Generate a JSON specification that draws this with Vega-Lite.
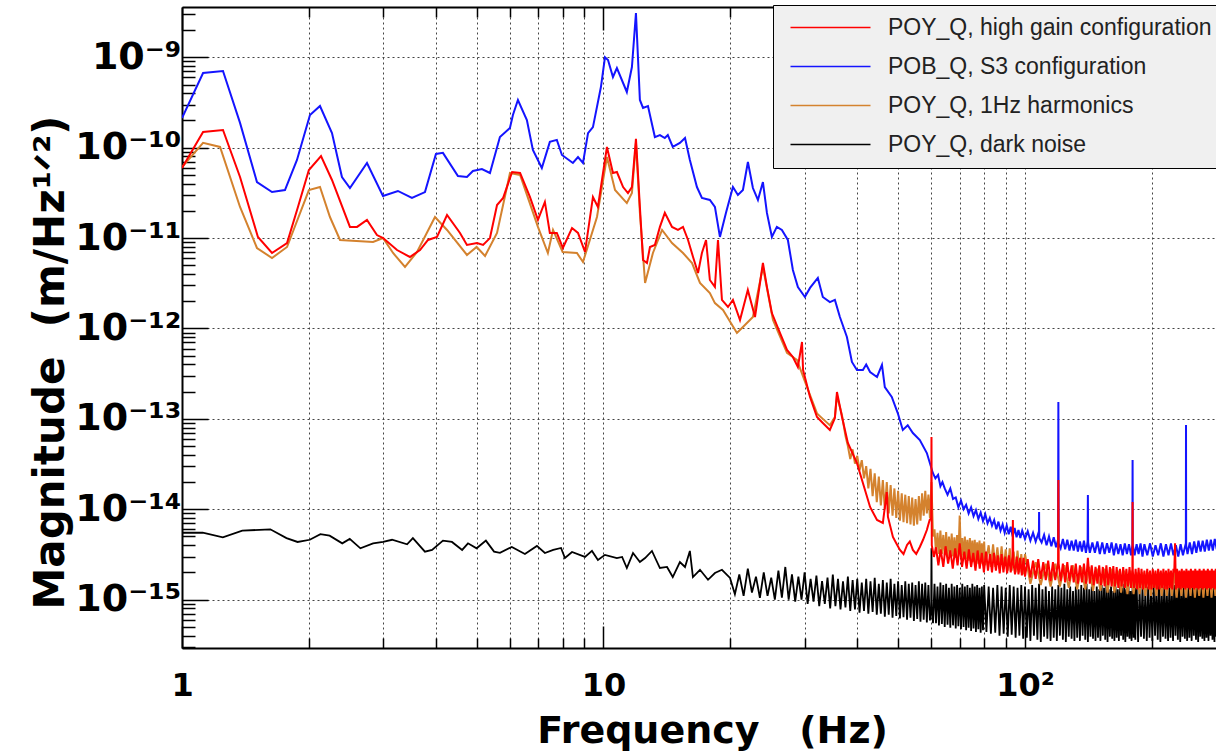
{
"$schema":"https://vega.github.io/schema/vega-lite/v6.json",
"width":1034,"height":641,
"autosize":"none",
"padding":{"left":182,"top":7,"right":0,"bottom":103},
"background":"white",
"config":{"view":{"stroke":null},"font":"DejaVu Sans"},
"datasets":{
"k":[{"f":1,"v":5.5e-15},{"f":1.12,"v":5.5e-15},{"f":1.25,"v":4.9e-15},{"f":1.39,"v":5.8e-15},{"f":1.62,"v":6.0e-15},{"f":1.77,"v":4.8e-15},{"f":1.88,"v":4.35e-15},{"f":2.01,"v":4.6e-15},{"f":2.13,"v":5.3e-15},{"f":2.24,"v":5.1e-15},{"f":2.4,"v":4.2e-15},{"f":2.5,"v":4.7e-15},{"f":2.65,"v":3.7e-15},{"f":2.84,"v":4.2e-15},{"f":3.0,"v":4.35e-15},{"f":3.15,"v":4.6e-15},{"f":3.42,"v":4.1e-15},{"f":3.53,"v":4.8e-15},{"f":3.77,"v":3.4e-15},{"f":3.92,"v":3.55e-15},{"f":4.16,"v":4.5e-15},{"f":4.37,"v":4.35e-15},{"f":4.62,"v":3.55e-15},{"f":4.77,"v":4.2e-15},{"f":5.0,"v":3.7e-15},{"f":5.26,"v":4.5e-15},{"f":5.5,"v":3.4e-15},{"f":5.68,"v":3.3e-15},{"f":6.06,"v":3.83e-15},{"f":6.51,"v":3.2e-15},{"f":6.95,"v":3.93e-15},{"f":7.26,"v":3.28e-15},{"f":7.6,"v":3.55e-15},{"f":7.93,"v":3.73e-15},{"f":8.1,"v":2.89e-15},{"f":8.42,"v":3.37e-15},{"f":9.04,"v":2.97e-15},{"f":9.39,"v":3.46e-15},{"f":9.7,"v":2.75e-15},{"f":10.08,"v":3.13e-15},{"f":10.76,"v":2.89e-15},{"f":11.07,"v":2.97e-15},{"f":11.36,"v":2.24e-15},{"f":11.75,"v":3.28e-15},{"f":12.2,"v":2.61e-15},{"f":12.55,"v":2.89e-15},{"f":13.03,"v":3.46e-15},{"f":13.61,"v":2.24e-15},{"f":14.15,"v":2.3e-15},{"f":14.6,"v":1.78e-15},{"f":15.18,"v":2.61e-15},{"f":15.61,"v":2.3e-15},{"f":16.03,"v":3.46e-15},{"f":16.3,"v":1.78e-15},{"f":16.94,"v":2.14e-15},{"f":17.7,"v":1.66e-15},{"f":18.38,"v":1.97e-15},{"f":19.1,"v":2.14e-15},{"f":19.96,"v":1.74e-15},
{"f":20.5,"v":1.15e-15},{"f":21,"v":1.9e-15},{"f":21.5,"v":1.1e-15},{"f":22,"v":2.2e-15},{"f":22.5,"v":1.2e-15},{"f":23,"v":1.8e-15},{"f":23.5,"v":1.05e-15},{"f":24,"v":2.0e-15},{"f":24.5,"v":1.1e-15},{"f":25,"v":1.75e-15},{"f":25.5,"v":1.0e-15},{"f":26,"v":2.1e-15},{"f":26.5,"v":1.05e-15},{"f":27,"v":2.3e-15},{"f":27.5,"v":1.0e-15},{"f":28,"v":1.9e-15},{"f":28.5,"v":9.5e-16},{"f":29,"v":1.8e-15},{"f":29.5,"v":1.0e-15},{"f":30,"v":2.0e-15},{"f":30.5,"v":9.0e-16},{"f":31,"v":1.7e-15},{"f":31.5,"v":9.5e-16},{"f":32,"v":1.85e-15},{"f":32.5,"v":8.5e-16},{"f":33,"v":1.6e-15},{"f":33.5,"v":9.0e-16},{"f":34,"v":1.75e-15},{"f":34.5,"v":8.0e-16},{"f":35,"v":1.9e-15},{"f":35.5,"v":8.5e-16},{"f":36,"v":1.7e-15},{"f":36.5,"v":7.8e-16},{"f":37,"v":1.6e-15},{"f":37.5,"v":8.2e-16},{"f":38,"v":1.8e-15},{"f":38.5,"v":7.5e-16},{"f":39,"v":1.65e-15},{"f":39.5,"v":7.8e-16},{"f":40,"v":1.7e-15},{"f":40.5,"v":7.2e-16},{"f":41,"v":1.55e-15},{"f":41.5,"v":7.5e-16},{"f":42,"v":1.7e-15},{"f":42.5,"v":7.0e-16},{"f":43,"v":1.6e-15},{"f":43.5,"v":7.3e-16},{"f":44,"v":1.75e-15},{"f":44.5,"v":6.8e-16},{"f":45,"v":1.5e-15},{"f":45.5,"v":7.0e-16},{"f":46,"v":1.65e-15},{"f":46.5,"v":6.5e-16},{"f":47,"v":1.55e-15},{"f":47.5,"v":6.8e-16},{"f":48,"v":1.7e-15},{"f":48.5,"v":6.3e-16},{"f":49,"v":1.5e-15},{"f":49.5,"v":6.6e-16},{"f":50,"v":1.6e-15},{"f":50.5,"v":6.2e-16},{"f":51,"v":1.45e-15},{"f":51.5,"v":6.4e-16},{"f":52,"v":1.6e-15},{"f":52.5,"v":6.0e-16},{"f":53,"v":1.5e-15},{"f":53.5,"v":6.3e-16},{"f":54,"v":1.55e-15},{"f":54.5,"v":5.8e-16},{"f":55,"v":1.45e-15},{"f":55.5,"v":6.1e-16},{"f":56,"v":1.6e-15},{"f":56.5,"v":5.7e-16},{"f":57,"v":1.5e-15},{"f":57.5,"v":6.0e-16},{"f":58,"v":1.55e-15},{"f":58.5,"v":5.6e-16},{"f":59,"v":1.45e-15},{"f":59.5,"v":5.9e-16},{"f":59.9,"v":8e-16},{"f":60,"v":3.7e-15},{"f":60.1,"v":8e-16},{"f":60.5,"v":5.5e-16},
{"f":61,"v":1.5e-15},{"f":61.5,"v":5.5e-16},{"f":62,"v":1.4e-15},{"f":62.5,"v":5.2e-16},{"f":63,"v":1.55e-15},{"f":63.5,"v":5.4e-16},{"f":64,"v":1.45e-15},{"f":64.5,"v":5.0e-16},{"f":65,"v":1.5e-15},{"f":65.5,"v":5.3e-16},{"f":66,"v":1.35e-15},{"f":66.5,"v":4.9e-16},{"f":67,"v":1.5e-15},{"f":67.5,"v":5.2e-16},{"f":68,"v":1.4e-15},{"f":68.5,"v":4.8e-16},{"f":69,"v":1.45e-15},{"f":69.5,"v":5.1e-16},{"f":70,"v":1.35e-15},{"f":70.5,"v":4.7e-16},{"f":71,"v":1.5e-15},{"f":71.5,"v":5.0e-16},{"f":72,"v":1.4e-15},{"f":72.5,"v":4.6e-16},{"f":73,"v":1.45e-15},{"f":73.5,"v":4.9e-16},{"f":74,"v":1.35e-15},{"f":74.5,"v":4.5e-16},{"f":75,"v":1.5e-15},{"f":75.5,"v":4.8e-16},{"f":76,"v":1.4e-15},{"f":76.5,"v":4.4e-16},{"f":77,"v":1.45e-15},{"f":77.5,"v":4.7e-16},{"f":78,"v":1.35e-15},{"f":78.5,"v":4.3e-16},{"f":79,"v":1.4e-15},{"f":79.5,"v":4.6e-16},{"f":80,"v":1.45e-15},
{"f":81,"v":4.4e-16},{"f":82,"v":1.4e-15},{"f":83,"v":4.2e-16},{"f":84,"v":1.35e-15},{"f":85,"v":4.3e-16},{"f":86,"v":1.45e-15},{"f":87,"v":4.0e-16},{"f":88,"v":1.4e-15},{"f":89,"v":4.2e-16},{"f":90,"v":1.35e-15},{"f":91,"v":3.9e-16},{"f":92,"v":1.45e-15},{"f":93,"v":4.1e-16},{"f":94,"v":1.4e-15},{"f":95,"v":3.8e-16},{"f":96,"v":1.35e-15},{"f":97,"v":4.0e-16},{"f":98,"v":1.45e-15},{"f":99,"v":3.7e-16},
{"f":100,"v":1.4e-15},{"f":101,"v":3.8e-16},{"f":102,"v":1.3e-15},{"f":103,"v":3.5e-16},{"f":104,"v":1.45e-15},{"f":105,"v":4.0e-16},{"f":106,"v":1.35e-15},{"f":107,"v":3.6e-16},{"f":108,"v":1.5e-15},{"f":109,"v":3.4e-16},{"f":110,"v":1.3e-15},{"f":111,"v":3.9e-16},{"f":112,"v":1.4e-15},{"f":113,"v":3.7e-16},{"f":114,"v":1.25e-15},{"f":115,"v":3.5e-16},
{"f":116,"v":1.4e-15},{"f":117,"v":3.8e-16},{"f":118,"v":1.3e-15},{"f":119,"v":3.5e-16},{"f":120,"v":1.45e-15},{"f":121,"v":4.0e-16},{"f":122,"v":1.35e-15},{"f":123,"v":3.6e-16},{"f":124,"v":1.5e-15},{"f":125,"v":3.4e-16},{"f":126,"v":1.3e-15},{"f":127,"v":3.9e-16},{"f":128,"v":1.4e-15},{"f":129,"v":3.7e-16},{"f":130,"v":1.25e-15},{"f":131,"v":3.5e-16},
{"f":132,"v":1.4e-15},{"f":133,"v":3.8e-16},{"f":134,"v":1.3e-15},{"f":135,"v":3.5e-16},{"f":136,"v":1.45e-15},{"f":137,"v":4.0e-16},{"f":138,"v":1.35e-15},{"f":139,"v":3.6e-16},{"f":140,"v":1.5e-15},{"f":141,"v":3.4e-16},{"f":142,"v":1.3e-15},{"f":143,"v":3.9e-16},{"f":144,"v":1.4e-15},{"f":145,"v":3.7e-16},{"f":146,"v":1.25e-15},{"f":147,"v":3.5e-16},
{"f":148,"v":1.4e-15},{"f":149,"v":3.8e-16},{"f":150,"v":1.3e-15},{"f":151,"v":3.5e-16},{"f":152,"v":1.45e-15},{"f":153,"v":4.0e-16},{"f":154,"v":1.35e-15},{"f":155,"v":3.6e-16},{"f":156,"v":1.5e-15},{"f":157,"v":3.4e-16},{"f":158,"v":1.3e-15},{"f":159,"v":3.9e-16},{"f":160,"v":1.4e-15},{"f":161,"v":3.7e-16},{"f":162,"v":1.25e-15},{"f":163,"v":3.5e-16},
{"f":164,"v":1.4e-15},{"f":165,"v":3.8e-16},{"f":166,"v":1.3e-15},{"f":167,"v":3.5e-16},{"f":168,"v":1.45e-15},{"f":169,"v":4.0e-16},{"f":170,"v":1.35e-15},{"f":171,"v":3.6e-16},{"f":172,"v":1.5e-15},{"f":173,"v":3.4e-16},{"f":174,"v":1.3e-15},{"f":175,"v":3.9e-16},{"f":176,"v":1.4e-15},{"f":177,"v":3.7e-16},{"f":178,"v":1.25e-15},{"f":179,"v":3.5e-16},{"f":180,"v":1.4e-15},{"f":181,"v":3.8e-16},{"f":182,"v":1.35e-15},
{"f":182.7,"v":3.6e-16},{"f":184,"v":1.5e-15},{"f":185.5,"v":3.4e-16},{"f":187,"v":1.3e-15},{"f":188.5,"v":3.9e-16},{"f":190,"v":1.4e-15},{"f":191.5,"v":3.7e-16},{"f":193,"v":1.25e-15},{"f":194.5,"v":3.5e-16},{"f":196,"v":1.4e-15},{"f":197.5,"v":3.8e-16},{"f":199,"v":1.3e-15},{"f":200.5,"v":3.5e-16},{"f":202,"v":1.45e-15},{"f":203.5,"v":4.0e-16},{"f":205,"v":1.35e-15},{"f":206.5,"v":3.6e-16},{"f":208,"v":1.5e-15},{"f":209.5,"v":3.4e-16},{"f":211,"v":1.3e-15},{"f":212.5,"v":3.9e-16},{"f":214,"v":1.4e-15},{"f":215.5,"v":3.7e-16},{"f":217,"v":1.25e-15},{"f":218.5,"v":3.5e-16},{"f":220,"v":1.4e-15},{"f":221.5,"v":3.8e-16},{"f":223,"v":1.3e-15},{"f":224.5,"v":3.5e-16},{"f":226,"v":1.45e-15},{"f":227.5,"v":4.0e-16},{"f":229,"v":1.35e-15},{"f":230.5,"v":3.6e-16},{"f":232,"v":1.5e-15},{"f":233.5,"v":3.4e-16},{"f":235,"v":1.3e-15},{"f":236.5,"v":3.9e-16},{"f":238,"v":1.4e-15},{"f":239.5,"v":3.7e-16},{"f":241,"v":1.25e-15},{"f":242.5,"v":3.5e-16},{"f":244,"v":1.4e-15},{"f":245.5,"v":3.8e-16},{"f":247,"v":1.3e-15},{"f":248.5,"v":3.5e-16},{"f":250,"v":1.45e-15},{"f":251.5,"v":4.0e-16},{"f":253,"v":1.35e-15},{"f":254.5,"v":3.6e-16},{"f":256,"v":1.5e-15},{"f":257.5,"v":3.4e-16},{"f":259,"v":1.3e-15},{"f":260.5,"v":3.9e-16},{"f":262,"v":1.4e-15},{"f":263.5,"v":3.7e-16},{"f":265,"v":1.25e-15},{"f":266.5,"v":3.5e-16},{"f":268,"v":1.4e-15},{"f":269.5,"v":3.8e-16},{"f":271,"v":1.3e-15},{"f":272.5,"v":3.5e-16},{"f":274,"v":1.45e-15},{"f":275.5,"v":4.0e-16},{"f":277,"v":1.35e-15},{"f":278.5,"v":3.6e-16},{"f":280,"v":1.5e-15},{"f":281.5,"v":3.4e-16},{"f":283,"v":1.3e-15},{"f":284.5,"v":3.9e-16}],
"b":[{"f":1,"v":2.13e-10},{"f":1.122,"v":6.7e-10},{"f":1.251,"v":7.05e-10},{"f":1.373,"v":1.88e-10},{"f":1.506,"v":4.17e-11},{"f":1.635,"v":3.23e-11},{"f":1.755,"v":3.4e-11},{"f":1.874,"v":7.31e-11},{"f":2.012,"v":2.3e-10},{"f":2.125,"v":2.89e-10},{"f":2.269,"v":1.45e-10},{"f":2.396,"v":4.74e-11},{"f":2.503,"v":3.58e-11},{"f":2.747,"v":6.77e-11},{"f":2.998,"v":2.92e-11},{"f":3.253,"v":3.32e-11},{"f":3.512,"v":2.78e-11},{"f":3.771,"v":3.23e-11},{"f":4.004,"v":8.52e-11},{"f":4.16,"v":8.76e-11},{"f":4.515,"v":4.86e-11},{"f":4.743,"v":4.74e-11},{"f":4.9,"v":5.52e-11},{"f":5.147,"v":5.81e-11},{"f":5.378,"v":5.25e-11},{"f":5.679,"v":1.31e-10},{"f":5.998,"v":1.65e-10},{"f":6.097,"v":2.3e-10},{"f":6.266,"v":3.37e-10},{"f":6.58,"v":2.02e-10},{"f":6.8,"v":9.43e-11},{"f":7.14,"v":5.96e-11},{"f":7.46,"v":1.16e-10},{"f":7.75,"v":1.22e-10},{"f":7.97,"v":8.3e-11},{"f":8.46,"v":6.77e-11},{"f":8.7,"v":7.89e-11},{"f":8.94,"v":6.77e-11},{"f":9.19,"v":1.45e-10},{"f":9.44,"v":1.69e-10},{"f":9.86,"v":4.69e-10},{"f":10.08,"v":1.0e-9},{"f":10.25,"v":9.33e-10},{"f":10.53,"v":6.05e-10},{"f":10.76,"v":7.61e-10},{"f":11.36,"v":4.13e-10},{"f":11.68,"v":7.81e-10},{"f":11.94,"v":3.09e-9},{"f":12.2,"v":3.37e-10},{"f":12.41,"v":2.75e-10},{"f":12.75,"v":2.89e-10},{"f":13.24,"v":1.31e-10},{"f":13.61,"v":1.38e-10},{"f":13.98,"v":1.28e-10},{"f":14.21,"v":1.38e-10},{"f":14.6,"v":1.02e-10},{"f":15.18,"v":1.13e-10},{"f":15.61,"v":1.28e-10},{"f":16.03,"v":7.31e-11},{"f":16.66,"v":3.67e-11},{"f":17.12,"v":2.78e-11},{"f":17.88,"v":2.64e-11},{"f":18.38,"v":2.21e-11},{"f":18.89,"v":1.03e-11},{"f":19.52,"v":1.9e-11},{"f":20.28,"v":3.67e-11},{"f":20.84,"v":3.0e-11},{"f":21.42,"v":3.4e-11},{"f":22.01,"v":6.95e-11},{"f":22.62,"v":3.58e-11},{"f":23.25,"v":2.64e-11},{"f":23.89,"v":4.17e-11},{"f":24.42,"v":1.9e-11},{"f":25.09,"v":1.03e-11},{"f":25.78,"v":1.33e-11},{"f":26.5,"v":1.23e-11},{"f":27.38,"v":9.53e-12},{"f":28.14,"v":4.44e-12},{"f":28.92,"v":2.88e-12},{"f":30.05,"v":2.23e-12},{"f":30.9,"v":2.81e-12},{"f":32.25,"v":3.62e-12},{"f":33.14,"v":2.23e-12},{"f":34.44,"v":1.96e-12},{"f":35.4,"v":2.07e-12},{"f":36.38,"v":1.34e-12},{"f":37.8,"v":8.05e-13},{"f":38.85,"v":4.26e-13},{"f":39.93,"v":3.47e-13},{"f":41.25,"v":3.47e-13},{"f":42.0,"v":4.0e-13},{"f":42.9,"v":3.3e-13},{"f":44.56,"v":2.91e-13},{"f":45.78,"v":3.95e-13},{"f":46.5,"v":2.25e-13},{"f":48.3,"v":1.75e-13},{"f":49.9,"v":1.16e-13},{"f":51.3,"v":7.54e-14},{"f":52.7,"v":8.5e-14},{"f":54.2,"v":6.98e-14},{"f":56.3,"v":5.84e-14},{"f":58.5,"v":4.19e-14},{"f":60.45,"v":2.52e-14},{"f":61.3,"v":2.2e-14},{"f":62.2,"v":2.4e-14},{"f":63.0,"v":1.8e-14},{"f":63.7,"v":2.0e-14},{"f":64.5,"v":1.7e-14},{"f":65.5,"v":1.45e-14},{"f":66.5,"v":1.7e-14},{"f":67.5,"v":1.3e-14},{"f":68.5,"v":1.35e-14},{"f":69.5,"v":1.05e-14},{"f":70.5,"v":1.25e-14},{"f":71.5,"v":1.0e-14},{"f":72.5,"v":1.12e-14},{"f":73.5,"v":9.0e-15},{"f":74.5,"v":1.05e-14},{"f":75.5,"v":8.4e-15},{"f":76.5,"v":9.8e-15},{"f":77.5,"v":7.8e-15},{"f":78.5,"v":9.2e-15},{"f":79.5,"v":7.4e-15},{"f":80.5,"v":8.8e-15},{"f":81.5,"v":7.0e-15},{"f":82.5,"v":8.0e-15},{"f":83.5,"v":6.6e-15},{"f":84.5,"v":7.6e-15},{"f":85.5,"v":6.0e-15},{"f":86.5,"v":7.3e-15},{"f":87.5,"v":5.8e-15},{"f":88.5,"v":6.8e-15},{"f":89.5,"v":5.5e-15},{"f":90.5,"v":6.6e-15},{"f":91.5,"v":5.3e-15},{"f":92.5,"v":6.4e-15},{"f":93.5,"v":5.0e-15},{"f":94.5,"v":6.2e-15},{"f":95.5,"v":4.9e-15},{"f":96.5,"v":5.9e-15},{"f":97.5,"v":4.8e-15},{"f":98.5,"v":5.8e-15},{"f":100,"v":4.7e-15},{"f":101.5,"v":5.7e-15},{"f":103,"v":4.5e-15},{"f":104.5,"v":5.5e-15},{"f":106,"v":4.4e-15},{"f":107.5,"v":5.4e-15},{"f":107.9,"v":5.0e-15},{"f":108,"v":9.3e-15},{"f":108.1,"v":4.8e-15},{"f":109.5,"v":4.3e-15},{"f":111,"v":5.2e-15},{"f":112.5,"v":4.0e-15},{"f":114,"v":5.0e-15},{"f":115.5,"v":3.9e-15},{"f":117,"v":4.9e-15},{"f":118.5,"v":3.8e-15},{"f":119.8,"v":4.6e-15},{"f":120,"v":1.54e-13},{"f":120.2,"v":4.2e-15},{"f":121.5,"v":3.7e-15},{"f":123,"v":4.7e-15},{"f":124.5,"v":3.6e-15},{"f":126,"v":4.6e-15},{"f":127.5,"v":3.5e-15},{"f":129,"v":4.5e-15},{"f":130.5,"v":3.5e-15},{"f":132,"v":4.6e-15},{"f":133.5,"v":3.4e-15},{"f":135,"v":4.4e-15},{"f":136.5,"v":3.4e-15},{"f":138,"v":4.5e-15},{"f":139.5,"v":3.3e-15},{"f":140.8,"v":4.4e-15},{"f":141,"v":1.44e-14},{"f":141.2,"v":4.3e-15},{"f":142.5,"v":3.3e-15},{"f":144.5,"v":4.3e-15},{"f":146.5,"v":3.3e-15},{"f":148.5,"v":4.4e-15},{"f":150.5,"v":3.2e-15},{"f":152.5,"v":4.3e-15},{"f":154.5,"v":3.2e-15},{"f":156.5,"v":4.2e-15},{"f":158.5,"v":3.3e-15},{"f":160.5,"v":4.3e-15},{"f":162.5,"v":3.1e-15},{"f":164.5,"v":4.2e-15},{"f":166.5,"v":3.2e-15},{"f":168.5,"v":4.1e-15},{"f":170.5,"v":3.1e-15},{"f":172.5,"v":4.2e-15},{"f":174.5,"v":3.2e-15},{"f":176.5,"v":4.1e-15},{"f":178.5,"v":3.1e-15},{"f":179.8,"v":4.0e-15},{"f":180,"v":3.51e-14},{"f":180.2,"v":4.0e-15},{"f":182,"v":3.1e-15},{"f":184,"v":4.1e-15},{"f":186,"v":3.2e-15},{"f":188,"v":4.2e-15},{"f":190,"v":3.0e-15},{"f":192,"v":4.1e-15},{"f":195,"v":3.1e-15},{"f":198,"v":4.2e-15},{"f":201,"v":3.0e-15},{"f":204,"v":4.0e-15},{"f":207,"v":3.1e-15},{"f":210,"v":4.2e-15},{"f":213,"v":3.0e-15},{"f":216,"v":4.1e-15},{"f":219,"v":3.1e-15},{"f":222,"v":4.2e-15},{"f":225,"v":3.1e-15},{"f":228,"v":4.0e-15},{"f":231,"v":3.0e-15},{"f":234,"v":4.1e-15},{"f":237,"v":3.1e-15},{"f":240.8,"v":4.2e-15},{"f":241,"v":8.56e-14},{"f":241.2,"v":4.0e-15},{"f":243,"v":3.2e-15},{"f":246,"v":4.3e-15},{"f":249,"v":3.2e-15},{"f":252,"v":4.4e-15},{"f":255,"v":3.3e-15},{"f":258,"v":4.5e-15},{"f":261,"v":3.4e-15},{"f":264,"v":4.5e-15},{"f":267,"v":3.4e-15},{"f":270,"v":4.6e-15},{"f":273,"v":3.5e-15},{"f":276,"v":4.6e-15},{"f":279,"v":3.5e-15},{"f":282,"v":4.7e-15},{"f":285,"v":3.6e-15}],
"o":[{"f":1,"v":6.11e-11},{"f":1.122,"v":1.13e-10},{"f":1.231,"v":1.02e-10},{"f":1.373,"v":2.21e-11},{"f":1.506,"v":7.77e-12},{"f":1.635,"v":6.02e-12},{"f":1.775,"v":7.97e-12},{"f":2.0,"v":3.4e-11},{"f":2.125,"v":3.67e-11},{"f":2.244,"v":1.71e-11},{"f":2.371,"v":9.53e-12},{"f":2.84,"v":9.05e-12},{"f":3.0,"v":1.0e-11},{"f":3.168,"v":6.84e-12},{"f":3.381,"v":4.79e-12},{"f":3.611,"v":7.02e-12},{"f":3.983,"v":1.71e-11},{"f":4.254,"v":1.23e-11},{"f":4.743,"v":6.5e-12},{"f":5.0,"v":7.97e-12},{"f":5.236,"v":6.34e-12},{"f":5.59,"v":1.14e-11},{"f":6.0,"v":5.25e-11},{"f":6.34,"v":4.99e-11},{"f":6.99,"v":1.33e-11},{"f":7.38,"v":6.84e-12},{"f":7.59,"v":1.23e-11},{"f":8.0,"v":7.02e-12},{"f":8.65,"v":6.84e-12},{"f":8.94,"v":5.44e-12},{"f":9.65,"v":1.71e-11},{"f":10.19,"v":7.89e-11},{"f":10.65,"v":3.4e-11},{"f":11.36,"v":2.44e-11},{"f":11.68,"v":3.15e-11},{"f":11.94,"v":1.13e-10},{"f":12.2,"v":1.9e-11},{"f":12.55,"v":3.19e-12},{"f":13.1,"v":6.84e-12},{"f":13.77,"v":1.23e-11},{"f":14.54,"v":8.82e-12},{"f":15.44,"v":6.84e-12},{"f":16.22,"v":5.3e-12},{"f":16.94,"v":3.19e-12},{"f":17.88,"v":2.47e-12},{"f":18.38,"v":1.91e-12},{"f":19.21,"v":1.6e-12},{"f":20.73,"v":8.92e-13},{"f":21.42,"v":1.04e-12},{"f":22.62,"v":1.34e-12},{"f":23.89,"v":4.79e-12},{"f":25.24,"v":1.24e-12},{"f":27.25,"v":5.36e-13},{"f":28.77,"v":4.48e-13},{"f":30.4,"v":2.25e-13},{"f":32.1,"v":1.15e-13},{"f":33.14,"v":1.0e-13},{"f":34.44,"v":8.5e-14},{"f":35.4,"v":1.05e-13},{"f":35.8,"v":1.8e-13},{"f":36.8,"v":1.1e-13},{"f":37.5,"v":6.5e-14},
{"f":38,"v":5.0e-14},{"f":38.5,"v":3.6e-14},{"f":39,"v":4.6e-14},{"f":39.5,"v":3.2e-14},{"f":40,"v":3.9e-14},{"f":40.5,"v":2.7e-14},{"f":41,"v":3.5e-14},{"f":41.5,"v":2.2e-14},{"f":42,"v":3.0e-14},{"f":42.5,"v":1.7e-14},{"f":43,"v":2.8e-14},{"f":43.5,"v":1.4e-14},{"f":44,"v":2.5e-14},{"f":44.5,"v":1.2e-14},{"f":45,"v":2.3e-14},{"f":45.5,"v":1.1e-14},{"f":46,"v":2.1e-14},{"f":46.5,"v":1.0e-14},{"f":47,"v":2.0e-14},{"f":47.5,"v":9.0e-15},{"f":48,"v":1.85e-14},{"f":48.5,"v":8.5e-15},{"f":49,"v":1.7e-14},{"f":49.5,"v":8.0e-15},{"f":50,"v":1.6e-14},{"f":50.5,"v":7.5e-15},{"f":51,"v":1.5e-14},{"f":51.5,"v":7.2e-15},{"f":52,"v":1.45e-14},{"f":52.5,"v":7.0e-15},{"f":53,"v":1.4e-14},{"f":53.5,"v":6.8e-15},{"f":54,"v":1.35e-14},{"f":54.5,"v":6.6e-15},{"f":55,"v":1.3e-14},{"f":55.5,"v":6.8e-15},{"f":56,"v":1.4e-14},{"f":56.5,"v":7.5e-15},{"f":57,"v":1.5e-14},{"f":57.5,"v":8.5e-15},{"f":58,"v":1.6e-14},{"f":58.5,"v":9.0e-15},{"f":59,"v":1.45e-14},{"f":59.5,"v":8.0e-15},{"f":60,"v":2.0e-14},{"f":60.5,"v":5.0e-15},
{"f":61,"v":6.0e-15},{"f":61.5,"v":3.3e-15},{"f":62,"v":5.5e-15},{"f":62.5,"v":3.2e-15},{"f":63,"v":5.8e-15},{"f":63.5,"v":3.2e-15},{"f":64,"v":5.2e-15},{"f":64.5,"v":3.1e-15},{"f":65,"v":5.6e-15},{"f":65.5,"v":3.0e-15},{"f":66,"v":5.0e-15},{"f":66.5,"v":3.1e-15},{"f":67,"v":5.4e-15},{"f":67.5,"v":3.0e-15},{"f":68,"v":4.9e-15},{"f":68.5,"v":2.9e-15},{"f":69,"v":5.2e-15},{"f":69.5,"v":3.0e-15},{"f":70,"v":8.5e-15},{"f":70.5,"v":2.9e-15},{"f":71,"v":4.8e-15},{"f":71.5,"v":2.8e-15},{"f":72,"v":5.0e-15},{"f":72.5,"v":2.8e-15},{"f":73,"v":4.6e-15},{"f":73.5,"v":2.7e-15},{"f":74,"v":4.8e-15},{"f":74.5,"v":2.7e-15},{"f":75,"v":4.5e-15},{"f":75.5,"v":2.6e-15},{"f":76,"v":4.6e-15},{"f":76.5,"v":2.6e-15},{"f":77,"v":4.3e-15},{"f":77.5,"v":2.5e-15},{"f":78,"v":4.5e-15},{"f":78.5,"v":2.5e-15},{"f":79,"v":4.2e-15},{"f":79.5,"v":2.4e-15},{"f":80,"v":4.4e-15},{"f":80.5,"v":2.4e-15},{"f":82,"v":4.0e-15},{"f":83,"v":2.3e-15},{"f":84,"v":4.1e-15},{"f":85,"v":2.3e-15},{"f":86,"v":3.8e-15},{"f":87,"v":2.2e-15},{"f":88,"v":3.9e-15},{"f":89,"v":2.2e-15},{"f":90,"v":3.6e-15},{"f":91,"v":2.1e-15},{"f":92,"v":3.7e-15},{"f":93,"v":2.1e-15},{"f":94,"v":3.4e-15},{"f":95,"v":2.0e-15},{"f":96,"v":3.5e-15},{"f":97,"v":2.0e-15},{"f":98,"v":3.2e-15},{"f":99,"v":1.9e-15},{"f":100,"v":3.2e-15},
{"f":103,"v":1.5e-15},{"f":106,"v":2.6e-15},{"f":109,"v":1.45e-15},{"f":112,"v":2.5e-15},{"f":115,"v":1.4e-15},{"f":118,"v":2.5e-15},{"f":121,"v":1.4e-15},{"f":124,"v":2.4e-15},{"f":127,"v":1.35e-15},{"f":130,"v":2.4e-15},{"f":133,"v":1.3e-15},{"f":136,"v":2.3e-15},{"f":139,"v":1.3e-15},{"f":142,"v":2.3e-15},{"f":145,"v":1.25e-15},{"f":148,"v":2.2e-15},{"f":151,"v":1.25e-15},{"f":154,"v":2.2e-15},{"f":157,"v":1.2e-15},{"f":160,"v":2.2e-15},{"f":163,"v":1.2e-15},{"f":166,"v":2.1e-15},{"f":169,"v":1.2e-15},{"f":172,"v":2.1e-15},{"f":175,"v":1.15e-15},{"f":178,"v":2.1e-15},{"f":181,"v":1.15e-15},{"f":184,"v":2.0e-15},{"f":187,"v":1.15e-15},{"f":190,"v":2.0e-15},{"f":193,"v":1.1e-15},{"f":196,"v":2.0e-15},{"f":199,"v":1.1e-15},{"f":202,"v":2.0e-15},{"f":205,"v":1.1e-15},{"f":208,"v":2.0e-15},{"f":211,"v":1.1e-15},{"f":214,"v":2.0e-15},{"f":217,"v":1.1e-15},{"f":220,"v":2.0e-15},{"f":223,"v":1.1e-15},{"f":226,"v":2.0e-15},{"f":229,"v":1.05e-15},{"f":232,"v":2.0e-15},{"f":235,"v":1.1e-15},{"f":238,"v":2.0e-15},{"f":241,"v":1.05e-15},{"f":244,"v":2.0e-15},{"f":247,"v":1.1e-15},{"f":250,"v":2.0e-15},{"f":253,"v":1.05e-15},{"f":256,"v":1.9e-15},{"f":259,"v":1.1e-15},{"f":262,"v":2.0e-15},{"f":265,"v":1.05e-15},{"f":268,"v":1.9e-15},{"f":271,"v":1.1e-15},{"f":274,"v":2.0e-15},{"f":277,"v":1.05e-15},{"f":280,"v":1.9e-15},{"f":283,"v":1.1e-15},{"f":286,"v":2.0e-15}],
"r":[{"f":1,"v":5.96e-11},{"f":1.122,"v":1.49e-10},{"f":1.251,"v":1.57e-10},{"f":1.373,"v":4.74e-11},{"f":1.514,"v":1.03e-11},{"f":1.635,"v":6.84e-12},{"f":1.775,"v":8.82e-12},{"f":1.884,"v":2.21e-11},{"f":2.0,"v":5.66e-11},{"f":2.137,"v":8.09e-11},{"f":2.269,"v":4.39e-11},{"f":2.503,"v":1.33e-11},{"f":2.602,"v":1.33e-11},{"f":2.747,"v":1.59e-11},{"f":2.901,"v":1.08e-11},{"f":3.0,"v":1.0e-11},{"f":3.237,"v":7.38e-12},{"f":3.474,"v":6.18e-12},{"f":3.67,"v":7.38e-12},{"f":3.834,"v":9.53e-12},{"f":4.027,"v":1.03e-11},{"f":4.254,"v":1.8e-11},{"f":4.566,"v":1.14e-11},{"f":4.743,"v":8.39e-12},{"f":5.01,"v":8.82e-12},{"f":5.18,"v":8.39e-12},{"f":5.378,"v":1.0e-11},{"f":5.59,"v":2.32e-11},{"f":5.78,"v":2.78e-11},{"f":6.07,"v":5.38e-11},{"f":6.34,"v":5.25e-11},{"f":6.69,"v":2.85e-11},{"f":6.99,"v":1.59e-11},{"f":7.26,"v":2.51e-11},{"f":7.46,"v":1.14e-11},{"f":7.75,"v":1.14e-11},{"f":8.01,"v":7.77e-12},{"f":8.42,"v":1.29e-11},{"f":8.7,"v":1.14e-11},{"f":9.04,"v":7.02e-12},{"f":9.44,"v":2.85e-11},{"f":9.7,"v":2.21e-11},{"f":10.19,"v":1.02e-10},{"f":10.53,"v":5.25e-11},{"f":10.76,"v":5.38e-11},{"f":11.13,"v":3.67e-11},{"f":11.43,"v":3.15e-11},{"f":11.68,"v":3.67e-11},{"f":11.94,"v":1.25e-10},{"f":12.2,"v":2.21e-11},{"f":12.41,"v":5.73e-12},{"f":12.68,"v":5.3e-12},{"f":12.89,"v":7.97e-12},{"f":13.24,"v":8.39e-12},{"f":13.61,"v":1.33e-11},{"f":13.98,"v":1.9e-11},{"f":14.54,"v":1.33e-11},{"f":15.02,"v":1.23e-11},{"f":15.44,"v":1.33e-11},{"f":15.87,"v":9.53e-12},{"f":16.31,"v":6.18e-12},{"f":16.76,"v":4.11e-12},{"f":17.12,"v":6.84e-12},{"f":17.51,"v":9.53e-12},{"f":17.88,"v":3.44e-12},{"f":18.38,"v":2.88e-12},{"f":18.69,"v":9.53e-12},{"f":19.1,"v":2.07e-12},{"f":19.74,"v":1.73e-12},{"f":20.28,"v":2.07e-12},{"f":21.08,"v":1.24e-12},{"f":22.0,"v":2.67e-12},{"f":22.88,"v":1.34e-12},{"f":23.89,"v":5.3e-12},{"f":24.42,"v":2.88e-12},{"f":25.09,"v":1.48e-12},{"f":26.22,"v":8.92e-13},{"f":27.25,"v":5.78e-13},{"f":28.14,"v":4.84e-13},{"f":28.92,"v":3.75e-13},{"f":29.58,"v":7.09e-13},{"f":29.75,"v":3.47e-13},{"f":30.9,"v":1.75e-13},{"f":32.1,"v":1.05e-13},{"f":33.14,"v":9.01e-14},{"f":34.44,"v":7.54e-14},{"f":35.4,"v":1.02e-13},{"f":35.8,"v":1.98e-13},{"f":36.8,"v":1.05e-13},{"f":38.0,"v":5.41e-14},{"f":39.93,"v":3.25e-14},{"f":41.25,"v":1.95e-14},{"f":42.9,"v":1.06e-14},{"f":44.56,"v":7.62e-15},{"f":46.0,"v":7.05e-15},{"f":47.0,"v":1.55e-14},{"f":47.3,"v":8.22e-15},{"f":48.6,"v":4.94e-15},{"f":49.5,"v":4.2e-15},{"f":50.5,"v":3.55e-15},{"f":51.5,"v":3.2e-15},{"f":52.5,"v":4.03e-15},{"f":53.3,"v":4.4e-15},{"f":54.2,"v":3.55e-15},{"f":55.2,"v":3.2e-15},{"f":56.3,"v":3.83e-15},{"f":57.3,"v":4.6e-15},{"f":58.5,"v":5.9e-15},{"f":59.4,"v":7.62e-15},{"f":59.9,"v":8e-15},{"f":60,"v":6.31e-14},{"f":60.1,"v":4e-15},{"f":60.8,"v":2.97e-15},
{"f":61.5,"v":3.8e-15},{"f":62.3,"v":2.4e-15},{"f":63.1,"v":3.6e-15},{"f":64,"v":2.3e-15},{"f":64.8,"v":3.9e-15},{"f":65.7,"v":2.5e-15},{"f":66.5,"v":3.5e-15},{"f":67.4,"v":2.2e-15},{"f":68.3,"v":3.7e-15},{"f":69.2,"v":2.4e-15},{"f":70,"v":4.2e-15},{"f":70.9,"v":2.3e-15},{"f":71.8,"v":3.4e-15},{"f":72.7,"v":2.2e-15},{"f":73.6,"v":3.6e-15},{"f":74.5,"v":2.3e-15},{"f":75.4,"v":3.3e-15},{"f":76.3,"v":2.1e-15},{"f":77.2,"v":3.5e-15},{"f":78.1,"v":2.2e-15},{"f":79,"v":3.3e-15},{"f":79.9,"v":2.0e-15},{"f":80.8,"v":3.4e-15},{"f":81.7,"v":2.1e-15},{"f":82.6,"v":3.2e-15},{"f":83.5,"v":2.0e-15},{"f":84.4,"v":3.3e-15},{"f":85.3,"v":2.1e-15},{"f":86.2,"v":3.1e-15},{"f":87.1,"v":1.95e-15},{"f":88,"v":3.2e-15},{"f":88.9,"v":2.0e-15},{"f":89.8,"v":3.0e-15},{"f":90.7,"v":1.95e-15},{"f":91.6,"v":3.1e-15},{"f":92.5,"v":2.0e-15},{"f":93.4,"v":3.0e-15},{"f":93.6,"v":7.6e-15},{"f":93.8,"v":2.6e-15},{"f":94.7,"v":1.9e-15},{"f":95.6,"v":3.0e-15},{"f":96.5,"v":1.9e-15},{"f":97.4,"v":2.9e-15},{"f":98.3,"v":1.85e-15},{"f":99.2,"v":2.9e-15},
{"f":100,"v":1.8e-15},{"f":101.5,"v":2.8e-15},{"f":103,"v":1.75e-15},{"f":104.5,"v":2.7e-15},{"f":106,"v":1.7e-15},{"f":107.5,"v":2.8e-15},{"f":109,"v":1.7e-15},{"f":110.5,"v":2.6e-15},{"f":112,"v":1.65e-15},{"f":113.5,"v":2.7e-15},{"f":115,"v":1.6e-15},{"f":116.5,"v":2.6e-15},{"f":118,"v":1.65e-15},{"f":119.8,"v":2.6e-15},{"f":120,"v":2.11e-14},{"f":120.2,"v":2.5e-15},{"f":121.5,"v":1.6e-15},{"f":123,"v":2.5e-15},{"f":124.5,"v":1.55e-15},{"f":126,"v":2.6e-15},{"f":127.5,"v":1.6e-15},{"f":129,"v":2.4e-15},{"f":130.5,"v":1.55e-15},{"f":132,"v":2.5e-15},{"f":133.5,"v":1.5e-15},{"f":135,"v":2.4e-15},{"f":136.5,"v":1.55e-15},{"f":138,"v":2.5e-15},{"f":139.5,"v":1.5e-15},{"f":141,"v":2.9e-15},{"f":142.5,"v":1.5e-15},{"f":144,"v":2.4e-15},{"f":145.5,"v":1.45e-15},{"f":147,"v":2.3e-15},{"f":148.5,"v":1.5e-15},{"f":150,"v":2.4e-15},{"f":151.5,"v":1.45e-15},{"f":153,"v":2.3e-15},{"f":154.5,"v":1.4e-15},{"f":156,"v":2.4e-15},{"f":157.5,"v":1.45e-15},{"f":159,"v":2.3e-15},{"f":160.5,"v":1.4e-15},{"f":162,"v":2.35e-15},{"f":163.5,"v":1.4e-15},{"f":165,"v":2.3e-15},{"f":166.5,"v":1.35e-15},{"f":168,"v":2.2e-15},{"f":169.5,"v":1.4e-15},{"f":171,"v":2.3e-15},{"f":172.5,"v":1.35e-15},{"f":174,"v":2.2e-15},{"f":175.5,"v":1.4e-15},{"f":177,"v":2.3e-15},{"f":178.5,"v":1.35e-15},{"f":179.8,"v":2.2e-15},{"f":180,"v":1.2e-14},{"f":180.2,"v":2.1e-15},{"f":181.5,"v":1.35e-15},{"f":183,"v":2.2e-15},{"f":184.5,"v":1.3e-15},{"f":186,"v":2.25e-15},{"f":187.5,"v":1.35e-15},{"f":189,"v":2.2e-15},{"f":190.5,"v":1.3e-15},{"f":192,"v":2.1e-15},{"f":193.5,"v":1.35e-15},{"f":195,"v":2.2e-15},{"f":196.5,"v":1.3e-15},{"f":198,"v":2.1e-15},{"f":199.5,"v":1.3e-15},{"f":201,"v":2.2e-15},{"f":202.5,"v":1.35e-15},{"f":204,"v":2.1e-15},{"f":205.5,"v":1.3e-15},{"f":207,"v":2.2e-15},{"f":208.5,"v":1.3e-15},{"f":210,"v":2.1e-15},{"f":211.5,"v":1.35e-15},{"f":213,"v":2.2e-15},{"f":214.5,"v":1.3e-15},{"f":216,"v":2.1e-15},{"f":217.5,"v":1.3e-15},{"f":219,"v":2.2e-15},{"f":220.5,"v":1.35e-15},{"f":222,"v":2.1e-15},{"f":223.5,"v":1.3e-15},{"f":225,"v":2.2e-15},{"f":226,"v":2.0e-15},{"f":227,"v":4.2e-15},{"f":228,"v":1.3e-15},{"f":229.5,"v":2.2e-15},{"f":231,"v":1.35e-15},{"f":232.5,"v":2.1e-15},{"f":234,"v":1.3e-15},{"f":235.5,"v":2.2e-15},{"f":237,"v":1.35e-15},{"f":238.5,"v":2.1e-15},{"f":240,"v":1.3e-15},{"f":241.5,"v":2.2e-15},{"f":243,"v":1.35e-15},{"f":244.5,"v":2.1e-15},{"f":246,"v":1.3e-15},{"f":247.5,"v":2.2e-15},{"f":249,"v":1.35e-15},{"f":250.5,"v":2.1e-15},{"f":252,"v":1.3e-15},{"f":253.5,"v":2.2e-15},{"f":255,"v":1.35e-15},{"f":256.5,"v":2.1e-15},{"f":258,"v":1.3e-15},{"f":259.5,"v":2.2e-15},{"f":261,"v":1.35e-15},{"f":262.5,"v":2.1e-15},{"f":264,"v":1.3e-15},{"f":265.5,"v":2.2e-15},{"f":267,"v":1.35e-15},{"f":268.5,"v":2.1e-15},{"f":270,"v":1.3e-15},{"f":271.5,"v":2.2e-15},{"f":273,"v":1.35e-15},{"f":274.5,"v":2.1e-15},{"f":276,"v":1.3e-15},{"f":277.5,"v":2.2e-15},{"f":279,"v":1.35e-15},{"f":280.5,"v":2.1e-15},{"f":282,"v":1.3e-15},{"f":283.5,"v":2.2e-15},{"f":285,"v":1.35e-15}]
},
"layer":[
{"data":{"name":"k"},
 "mark":{"type":"line","strokeWidth":1.8,"clip":true},
 "encoding":{
  "x":{"field":"f","type":"quantitative","scale":{"type":"log","domain":[1,283.9],"nice":false},
   "axis":{"orient":"bottom","values":[1,2,3,4,5,6,7,8,9,10,20,30,40,50,60,70,80,90,100,200],
    "labelExpr":"datum.value == 1 ? '1' : datum.value == 10 ? '10' : datum.value == 100 ? '10²' : ''",
    "labelFont":"DejaVu Sans","labelFontWeight":"bold","labelFontSize":32,"labelColor":"black",
    "labelBaseline":"top","labelAlign":"center","labelFlush":false,"labelOverlap":false,"labelPadding":44,
    "tickSize":{"condition":{"test":"datum.value == 1 || datum.value == 10 || datum.value == 100","value":-22},"value":-10},
    "tickColor":"black","tickWidth":1.5,"domainColor":"black","domainWidth":2,
    "grid":true,"gridColor":"#444444","gridDash":[2,3],"gridWidth":1,
    "title":"Frequency\u00a0\u00a0\u00a0(Hz)","titleFont":"DejaVu Sans","titleFontSize":38,"titleFontWeight":"bold","titleColor":"black",
    "titleX":530,"titleY":94,"titleAlign":"center","titleBaseline":"alphabetic"}},
  "y":{"field":"v","type":"quantitative","scale":{"type":"log","domain":[2.92e-16,3.6e-9],"nice":false},
   "axis":{"orient":"left","values":[3e-16,4e-16,5e-16,6e-16,7e-16,8e-16,9e-16,1e-15,2e-15,3e-15,4e-15,5e-15,6e-15,7e-15,8e-15,9e-15,1e-14,2e-14,3e-14,4e-14,5e-14,6e-14,7e-14,8e-14,9e-14,1e-13,2e-13,3e-13,4e-13,5e-13,6e-13,7e-13,8e-13,9e-13,1e-12,2e-12,3e-12,4e-12,5e-12,6e-12,7e-12,8e-12,9e-12,1e-11,2e-11,3e-11,4e-11,5e-11,6e-11,7e-11,8e-11,9e-11,1e-10,2e-10,3e-10,4e-10,5e-10,6e-10,7e-10,8e-10,9e-10,1e-9,2e-9,3e-9],
    "labelExpr":"abs(log(datum.value)/LN10 - round(log(datum.value)/LN10)) > 0.01 ? '' : ['10⁻¹⁵','10⁻¹⁴','10⁻¹³','10⁻¹²','10⁻¹¹','10⁻¹⁰','10⁻⁹'][round(log(datum.value)/LN10)+15]",
    "labelFont":"DejaVu Sans","labelFontWeight":"bold","labelFontSize":38,"labelColor":"black",
    "labelBaseline":"middle","labelAlign":"right","labelOverlap":false,"labelFlush":false,"labelPadding":27,
    "tickSize":{"condition":{"test":"abs(log(datum.value)/LN10 - round(log(datum.value)/LN10)) < 0.01","value":-26},"value":-13},
    "tickColor":"black","tickWidth":1.5,"domainColor":"black","domainWidth":2,
    "grid":true,"gridColor":"#444444","gridDash":[2,3],"gridWidth":1,
    "gridOpacity":{"condition":{"test":"abs(log(datum.value)/LN10 - round(log(datum.value)/LN10)) < 0.01","value":1},"value":0},
    "title":"Magnitude\u00a0\u00a0(m/Hz¹ᐟ²)","titleFont":"DejaVu Sans","titleFontSize":42,"titleFontWeight":"bold","titleColor":"black",
    "titleAngle":270,"titleX":-132,"titleY":355,"titleAlign":"center","titleBaseline":"middle"}},
  "color":{"datum":"POY_Q, dark noise","type":"nominal",
   "scale":{"domain":["POY_Q, high gain configuration","POB_Q, S3 configuration","POY_Q, 1Hz harmonics","POY_Q, dark noise"],"range":["#ff0000","#1414ff","#d4822e","#000000"]},
   "legend":{"title":null,"orient":"none","legendX":591,"legendY":-2,"symbolType":"M-1,0H7","symbolSize":400,"symbolStrokeWidth":1.5,"symbolOffset":5,
    "labelFont":"Liberation Sans","labelFontSize":23,"labelColor":"#222222","labelOffset":76,"labelLimit":600,
    "padding":11,"rowPadding":15,"fillColor":"#f0f0f0","strokeColor":"#000000"}}
 }},
{"data":{"name":"b"},
 "mark":{"type":"line","strokeWidth":2,"clip":true},
 "encoding":{
  "x":{"field":"f","type":"quantitative","scale":{"type":"log","domain":[1,283.9],"nice":false},
   "axis":{"orient":"top","labels":false,"title":null,"grid":false,"values":[1,2,3,4,5,6,7,8,9,10,20,30,40,50,60,70,80,90,100,200],
    "tickSize":{"condition":{"test":"datum.value == 1 || datum.value == 10 || datum.value == 100","value":-23},"value":-10},
    "tickColor":"black","tickWidth":1.5,"domainColor":"black","domainWidth":2}},
  "y":{"field":"v","type":"quantitative"},
  "color":{"datum":"POB_Q, S3 configuration","type":"nominal"}
 }},
{"data":{"name":"o"},
 "mark":{"type":"line","strokeWidth":2,"clip":true},
 "encoding":{
  "x":{"field":"f","type":"quantitative","axis":null},
  "y":{"field":"v","type":"quantitative"},
  "color":{"datum":"POY_Q, 1Hz harmonics","type":"nominal"}
 }},
{"data":{"name":"r"},
 "mark":{"type":"line","strokeWidth":2,"clip":true},
 "encoding":{
  "x":{"field":"f","type":"quantitative","axis":null},
  "y":{"field":"v","type":"quantitative"},
  "color":{"datum":"POY_Q, high gain configuration","type":"nominal"}
 }}
],
"resolve":{"axis":{"x":"independent"}}
}
